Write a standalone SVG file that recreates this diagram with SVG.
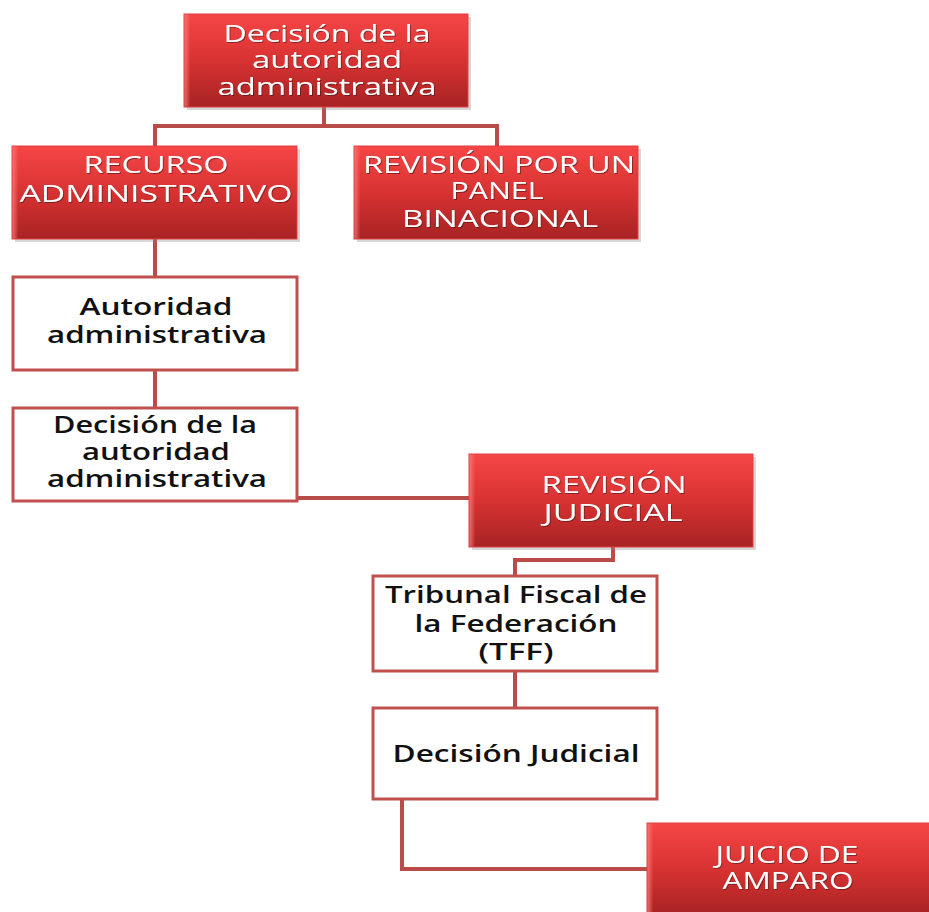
<svg xmlns="http://www.w3.org/2000/svg" width="929" height="912" viewBox="0 0 929 912">
  <defs>
    <linearGradient id="redFill" x1="0" y1="0" x2="0" y2="1">
      <stop offset="0" stop-color="#f64646"/>
      <stop offset="0.5" stop-color="#d83232"/>
      <stop offset="1" stop-color="#a82323"/>
    </linearGradient>
    <linearGradient id="redEdge" x1="0" y1="0" x2="1" y2="0">
      <stop offset="0" stop-color="#ff7a7a" stop-opacity="0.8"/>
      <stop offset="1" stop-color="#ff7a7a" stop-opacity="0"/>
    </linearGradient>
    <filter id="txtShadow" x="-5%" y="-20%" width="110%" height="140%">
      <feDropShadow dx="1" dy="1" stdDeviation="0.6" flood-color="#4a0a0a" flood-opacity="0.6"/>
    </filter>
  </defs>
  <style>
    .red { fill: url(#redFill); stroke: #e04040; stroke-width: 1; }
    .edge { fill: url(#redEdge); }
    .shadow { fill: #8a8a8a; opacity: 0.35; }
    .white { fill: #ffffff; stroke: #c0504d; stroke-width: 3; }
    .wt { font-family: "Open Sans", "Liberation Sans", sans-serif; font-size: 23px; fill: #ffffff; text-anchor: middle; filter: url(#txtShadow); }
    .bt { font-family: "Open Sans", "Liberation Sans", sans-serif; font-size: 23px; font-weight: 600; fill: #111111; text-anchor: middle; }
    .conn { fill: none; stroke: #b94b49; stroke-width: 4; }
  </style>

  <!-- connectors -->
  <g id="connectors">
    <path class="conn" d="M324 107 V126 M155 146 V126 H497 V146"/>
    <path class="conn" d="M155 239 V276"/>
    <path class="conn" d="M155 370 V407"/>
    <path class="conn" d="M298 498 H469"/>
    <path class="conn" d="M613 547 V560 H515 V575"/>
    <path class="conn" d="M515 672 V707"/>
    <path class="conn" d="M402 800 V869 H647"/>
  </g>

  <!-- top decision -->
  <g id="decision-top">
    <rect class="shadow" x="187" y="17" width="284" height="93"/>
    <rect class="red" x="184" y="14" width="284" height="93"/>
    <rect class="edge" x="184.5" y="14.5" width="6" height="92"/>
    <text class="wt" x="327" y="42" textLength="207" lengthAdjust="spacingAndGlyphs">Decisión de la</text>
    <text class="wt" x="327" y="68" textLength="150" lengthAdjust="spacingAndGlyphs">autoridad</text>
    <text class="wt" x="327" y="95" textLength="219" lengthAdjust="spacingAndGlyphs">administrativa</text>
  </g>

  <!-- recurso administrativo -->
  <g id="recurso">
    <rect class="shadow" x="15" y="149" width="285" height="93"/>
    <rect class="red" x="12" y="146" width="285" height="93"/>
    <rect class="edge" x="12.5" y="146.5" width="6" height="92"/>
    <text class="wt" x="156" y="173" textLength="145" lengthAdjust="spacingAndGlyphs">RECURSO</text>
    <text class="wt" x="156" y="202" textLength="273" lengthAdjust="spacingAndGlyphs">ADMINISTRATIVO</text>
  </g>

  <!-- panel binacional -->
  <g id="panel">
    <rect class="shadow" x="357" y="149" width="284" height="93"/>
    <rect class="red" x="354" y="146" width="284" height="93"/>
    <rect class="edge" x="354.5" y="146.5" width="6" height="92"/>
    <text class="wt" x="499" y="173" textLength="272" lengthAdjust="spacingAndGlyphs">REVISIÓN POR UN</text>
    <text class="wt" x="497" y="199" textLength="93" lengthAdjust="spacingAndGlyphs">PANEL</text>
    <text class="wt" x="500" y="227" textLength="196" lengthAdjust="spacingAndGlyphs">BINACIONAL</text>
  </g>

  <!-- autoridad administrativa -->
  <g id="autoridad">
    <rect class="white" x="13" y="277" width="284" height="93"/>
    <text class="bt" x="156" y="315" textLength="153" lengthAdjust="spacingAndGlyphs">Autoridad</text>
    <text class="bt" x="157" y="343" textLength="220" lengthAdjust="spacingAndGlyphs">administrativa</text>
  </g>

  <!-- decision of the authority -->
  <g id="decision-autoridad">
    <rect class="white" x="13" y="408" width="284" height="93"/>
    <text class="bt" x="155" y="433" textLength="204" lengthAdjust="spacingAndGlyphs">Decisión de la</text>
    <text class="bt" x="156" y="460" textLength="148" lengthAdjust="spacingAndGlyphs">autoridad</text>
    <text class="bt" x="157" y="487" textLength="220" lengthAdjust="spacingAndGlyphs">administrativa</text>
  </g>

  <!-- revision judicial -->
  <g id="revision-judicial">
    <rect class="shadow" x="472" y="457" width="284" height="93"/>
    <rect class="red" x="469" y="454" width="284" height="93"/>
    <rect class="edge" x="469.5" y="454.5" width="6" height="92"/>
    <text class="wt" x="614" y="493" textLength="145" lengthAdjust="spacingAndGlyphs">REVISIÓN</text>
    <text class="wt" x="613" y="521" textLength="139" lengthAdjust="spacingAndGlyphs">JUDICIAL</text>
  </g>

  <!-- tribunal fiscal -->
  <g id="tribunal">
    <rect class="white" x="373" y="576" width="284" height="95"/>
    <text class="bt" x="516" y="603" textLength="262" lengthAdjust="spacingAndGlyphs">Tribunal Fiscal de</text>
    <text class="bt" x="516" y="632" textLength="203" lengthAdjust="spacingAndGlyphs">la Federación</text>
    <text class="bt" x="516" y="660" textLength="75" lengthAdjust="spacingAndGlyphs">(TFF)</text>
  </g>

  <!-- decision judicial -->
  <g id="decision-judicial">
    <rect class="white" x="373" y="708" width="284" height="91"/>
    <text class="bt" x="516" y="762" textLength="247" lengthAdjust="spacingAndGlyphs">Decisión Judicial</text>
  </g>

  <!-- juicio de amparo -->
  <g id="amparo">
    <rect class="red" x="647" y="823" width="284" height="92"/>
    <rect class="edge" x="647.5" y="823.5" width="6" height="91"/>
    <text class="wt" x="787" y="863" textLength="143" lengthAdjust="spacingAndGlyphs">JUICIO DE</text>
    <text class="wt" x="788" y="889" textLength="131" lengthAdjust="spacingAndGlyphs">AMPARO</text>
  </g>
</svg>
